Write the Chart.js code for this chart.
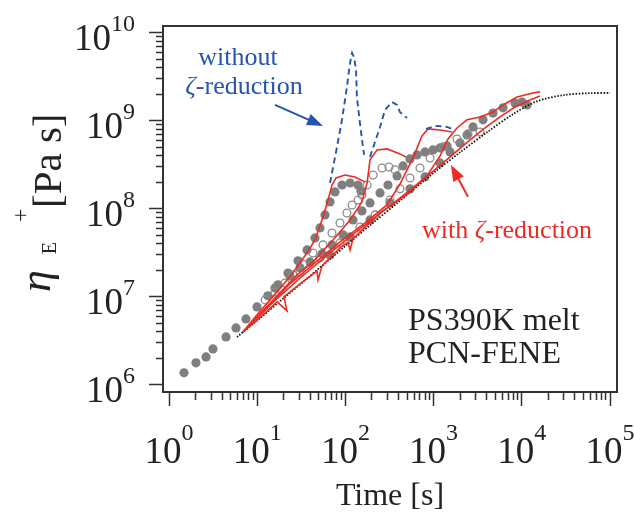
<!DOCTYPE html>
<html>
<head>
<meta charset="utf-8">
<script src="https://cdn.jsdelivr.net/npm/chart.js@4.4.0/dist/chart.umd.min.js"></script>
<style>
  body { margin: 0; background: #fff; }
</style>
</head>
<body>
<canvas id="chart" width="634" height="512"></canvas>
<script>
// --- axis ticks (powers of ten get a label) ---
const xMajor = [1, 10, 100, 1000, 10000, 100000];
const xExp = ['0', '1', '2', '3', '4', '5'];
const yMajor = [1e6, 1e7, 1e8, 1e9, 1e10];
const yExp = ['6', '7', '8', '9', '10'];

// --- LVE envelope (black dotted) ---
const lveTime = [5.9, 10, 20, 40, 100, 200, 400, 1000, 2000, 4000, 8000, 15000, 30000, 60000, 100000];
const lveEta = [3.5e6, 5.4e6, 9.7e6, 1.74e7, 3.8e7, 6.8e7, 1.2e8, 2.57e8, 4.4e8, 7.4e8, 1.2e9, 1.68e9, 1.97e9, 2.07e9, 2.08e9];

// --- experiments, filled / open grey circles ---
const aTime = [1.48, 2.02, 2.63, 3.15, 4.43, 5.75, 7.46, 9.95, 13.2, 17.2, 22.3, 29.0, 36.7, 45.2, 51.5, 58.7, 66.9, 76.2, 91.5, 113, 139, 150];
const aEta = [1.37e6, 1.78e6, 2.08e6, 2.56e6, 3.51e6, 4.44e6, 5.62e6, 7.7e6, 1.03e7, 1.37e7, 1.87e7, 2.57e7, 3.42e7, 4.68e7, 6.08e7, 8.55e7, 1.2e8, 1.56e8, 1.87e8, 1.97e8, 1.87e8, 1.6e8];
const bTime = [12.3, 15.9, 20.7, 25.5, 33.0, 42.9, 55.7, 70.5, 86.8, 104, 119, 139, 154, 176, 206, 260, 312, 365];
const bEta = [9.25e6, 1.14e7, 1.44e7, 1.78e7, 2.37e7, 3.16e7, 3.9e7, 5.33e7, 6.93e7, 9.0e7, 1.11e8, 1.26e8, 1.44e8, 1.87e8, 2.43e8, 2.92e8, 3.0e8, 2.78e8];
const cTime = [15.9, 23.5, 30.6, 39.7, 54.3, 70.5, 94.0, 122, 154, 190, 247, 304, 385, 450, 540, 649, 798, 984, 1183, 1419];
const cEta = [1.26e7, 1.73e7, 2.14e7, 2.5e7, 3.1e7, 3.9e7, 5.07e7, 7.5e7, 9.49e7, 1.17e8, 1.52e8, 1.87e8, 2.37e8, 3.08e8, 3.7e8, 4.11e8, 4.44e8, 4.68e8, 4.93e8, 5.2e8];
const dTime = [30.6, 51.5, 86.8, 146, 217, 320, 416, 540, 701, 910, 1279, 1843, 2455, 3357];
const dEta = [1.92e7, 2.78e7, 4.11e7, 6.24e7, 8.55e7, 1.26e8, 1.69e8, 2.25e8, 2.92e8, 3.8e8, 5.07e8, 6.24e8, 7.12e8, 7.5e8];
const eTime = [66.9, 113, 190, 320, 540, 798, 1183, 1535, 1992, 2391, 2799, 3631, 4713, 6120, 8375, 10050, 11450];
const eEta = [3.0e7, 4.81e7, 7.5e7, 1.17e8, 1.69e8, 2.31e8, 3.33e8, 4.44e8, 5.62e8, 6.93e8, 8.55e8, 1.03e9, 1.23e9, 1.41e9, 1.6e9, 1.64e9, 1.52e9];

// --- PCN-FENE with zeta-reduction (red) ---
const r1Time = [6.9, 9.69, 14.0, 23.5, 36.7, 45.2, 55.7, 63.5, 70.5, 78.2, 98.9, 128, 167];
const r1Eta = [4.0e6, 6.08e6, 9.25e6, 1.69e7, 3.16e7, 4.44e7, 8.11e7, 1.26e8, 1.87e8, 2.25e8, 2.43e8, 2.31e8, 2.03e8];
const r2Time = [6.9, 11.3, 18.1, 28.3, 42.9, 72.3, 113, 154, 176, 190, 228, 296, 416, 486];
const r2Eta = [4.0e6, 6.76e6, 1.11e7, 1.78e7, 2.5e7, 4.44e7, 7.5e7, 1.2e8, 1.97e8, 3.61e8, 4.68e8, 4.81e8, 4.22e8, 3.9e8];
const r3Time = [6.9, 12.3, 23.5, 45.2, 86.8, 167, 296, 416, 584, 738, 865, 1183, 1618];
const r3Eta = [4.0e6, 7.12e6, 1.41e7, 2.43e7, 4.22e7, 6.93e7, 1.11e8, 1.92e8, 3.8e8, 6.76e8, 8.11e8, 7.9e8, 7.5e8];
const r4Time = [6.9, 14.0, 30.6, 66.9, 146, 320, 540, 841, 1183, 1456, 1843, 2391, 3357, 4713, 6120, 8831, 13400, 16070];
const r4Eta = [4.0e6, 8.11e6, 1.64e7, 3.16e7, 5.93e7, 1.08e8, 1.64e8, 2.37e8, 4.0e8, 6.24e8, 8.32e8, 1.03e9, 1.11e9, 1.26e9, 1.52e9, 1.87e9, 2.08e9, 2.14e9];
const r5Time = [6.9, 11.3, 16.8, 21.8, 20.1, 30.6, 47.6, 48.9, 54.3, 86.8, 107, 113, 122, 247, 474, 910, 1535, 2588, 3828, 5659, 8375, 12380, 16070];
const r5Eta = [4.0e6, 6.08e6, 8.78e6, 6.93e6, 1.0e7, 1.41e7, 1.97e7, 1.56e7, 2.25e7, 3.6e7, 4.2e7, 3.4e7, 4.6e7, 9.0e7, 1.41e8, 2.5e8, 3.9e8, 6.08e8, 8.32e8, 1.11e9, 1.44e9, 1.73e9, 1.92e9];

// --- without zeta-reduction (blue dashed) ---
const u1Time = [66.9, 80.3, 91.5, 104, 110, 116, 119, 125, 132, 135, 146, 158, 163];
const u1Eta = [1.97e8, 5.07e8, 1.03e9, 2.43e9, 3.8e9, 5.33e9, 5.93e9, 5.33e9, 3.8e9, 1.87e9, 9.49e8, 5.07e8, 4.11e8];
const u2Time = [190, 247, 281, 338, 385, 416, 499];
const u2Eta = [3.9e8, 8.55e8, 1.33e9, 1.64e9, 1.52e9, 1.26e9, 1.08e9];
const u3Time = [820, 959, 1094, 1419, 1618];
const u3Eta = [8.11e8, 8.55e8, 8.78e8, 8.55e8, 8.11e8];

const RED = '#ee2a22';
const BLUE = '#2456b0';
const INK = '#222';
const SERIF = "'Liberation Serif', 'Times New Roman', serif";

const pts = (xs, ys) => xs.map((x, i) => ({x: x, y: ys[i]}));
const isMajor = v => v > 0 && Math.abs(Math.log10(v) - Math.round(Math.log10(v))) < 1e-9;

// minor ticks between decades
function decadeTicks(majors) {
  const out = [];
  majors.forEach((m, i) => {
    out.push(m);
    if (i < majors.length - 1) for (let k = 2; k <= 9; k++) out.push(m * k);
  });
  return out;
}
const xTicks = decadeTicks(xMajor);
const yTicks = decadeTicks(yMajor);

function redLine(xs, ys) {
  return { data: pts(xs, ys), borderColor: RED, borderWidth: 1.6, pointRadius: 0, tension: 0, fill: false };
}
function blueLine(xs, ys) {
  return { data: pts(xs, ys), borderColor: BLUE, borderWidth: 1.9, borderDash: [6, 4], pointRadius: 0, tension: 0, fill: false };
}
function filledPts(xs, ys) {
  return { data: pts(xs, ys), showLine: false, pointRadius: 4.6, pointBackgroundColor: '#7f7f7f', pointBorderWidth: 0 };
}
function openPts(xs, ys) {
  return { data: pts(xs, ys), showLine: false, pointRadius: 3.9, pointBackgroundColor: 'rgba(255,255,255,0)', pointBorderColor: '#8c8c8c', pointBorderWidth: 1.3 };
}

// text notes anchored in data coordinates
const notes = [
  { parts: [['without', false]], t: 6.06, eta: 4.33e9, color: BLUE, size: 26, align: 'center' },
  { parts: [['ζ', true], ['-reduction', false]], t: 7.08, eta: 2.03e9, color: BLUE, size: 26, align: 'center' },
  { parts: [['with ', false], ['ζ', true], ['-reduction', false]], t: 6800, eta: 4.68e7, color: RED, size: 26, align: 'center' },
  { parts: [['PS390K melt', false]], t: 513, eta: 4.22e6, color: INK, size: 32, align: 'left' },
  { parts: [['PCN-FENE', false]], t: 513, eta: 1.78e6, color: INK, size: 32, align: 'left' }
];
const arrows = [
  { from: [15.9, 1.52e9], to: [55.7, 8.78e8], color: BLUE },
  { from: [2455, 1.37e8], to: [1574, 3.16e8], color: RED }
];

function drawRich(ctx, parts, x, y, size, align) {
  const fonts = parts.map(p => (p[1] ? 'italic ' : '') + size + 'px ' + SERIF);
  let total = 0;
  const widths = parts.map((p, i) => { ctx.font = fonts[i]; const w = ctx.measureText(p[0]).width; total += w; return w; });
  let cx = align === 'center' ? x - total / 2 : x;
  ctx.textAlign = 'left';
  ctx.textBaseline = 'alphabetic';
  parts.forEach((p, i) => { ctx.font = fonts[i]; ctx.fillText(p[0], cx, y); cx += widths[i]; });
}

function drawArrow(ctx, x0, y0, x1, y1, color) {
  const ang = Math.atan2(y1 - y0, x1 - x0);
  const len = 16, half = 6;
  ctx.strokeStyle = color;
  ctx.fillStyle = color;
  ctx.lineWidth = 2;
  ctx.beginPath();
  ctx.moveTo(x0, y0);
  ctx.lineTo(x1 - Math.cos(ang) * len * 0.8, y1 - Math.sin(ang) * len * 0.8);
  ctx.stroke();
  ctx.beginPath();
  ctx.moveTo(x1, y1);
  ctx.lineTo(x1 - Math.cos(ang) * len - Math.sin(ang) * half, y1 - Math.sin(ang) * len + Math.cos(ang) * half);
  ctx.lineTo(x1 - Math.cos(ang) * len + Math.sin(ang) * half, y1 - Math.sin(ang) * len - Math.cos(ang) * half);
  ctx.closePath();
  ctx.fill();
}

const decor = {
  id: 'decor',
  afterDraw(chart) {
    const ctx = chart.ctx;
    const a = chart.chartArea;
    const xs = chart.scales.x, ys = chart.scales.y;
    ctx.save();

    // top and right of the frame
    ctx.strokeStyle = '#333';
    ctx.lineWidth = 2;
    ctx.beginPath();
    ctx.moveTo(a.left - 1, a.top);
    ctx.lineTo(a.right, a.top);
    ctx.lineTo(a.right, a.bottom + 1);
    ctx.stroke();

    // tick labels 10^n
    ctx.fillStyle = INK;
    ctx.textAlign = 'left';
    ctx.textBaseline = 'alphabetic';
    const big = '37px ' + SERIF, small = '24px ' + SERIF;
    xMajor.forEach((v, i) => {
      const px = xs.getPixelForValue(v);
      ctx.font = big; const w1 = ctx.measureText('10').width;
      ctx.font = small; const w2 = ctx.measureText(xExp[i]).width;
      const left = px - (w1 + w2) / 2;
      ctx.font = big; ctx.fillText('10', left, a.bottom + 71);
      ctx.font = small; ctx.fillText(xExp[i], left + w1, a.bottom + 48);
    });
    yMajor.forEach((v, i) => {
      const py = ys.getPixelForValue(v);
      ctx.font = big; const w1 = ctx.measureText('10').width;
      ctx.font = small; const w2 = ctx.measureText(yExp[i]).width;
      const right = a.left - 28;
      ctx.font = big; ctx.fillText('10', right - w2 - w1, py + 17);
      ctx.font = small; ctx.fillText(yExp[i], right - w2, py - 2);
    });

    // x title
    ctx.font = '32px ' + SERIF;
    ctx.textAlign = 'center';
    ctx.fillText('Time [s]', (a.left + a.right) / 2, 505);

    // y title, rotated
    ctx.save();
    ctx.translate(0, 292);
    ctx.rotate(-Math.PI / 2);
    ctx.textAlign = 'left';
    ctx.font = 'italic 44px ' + SERIF;
    ctx.fillText('η', 0, 50);
    const wEta = ctx.measureText('η').width;
    ctx.font = '20px ' + SERIF;
    ctx.fillText('E', wEta + 16, 56);
    ctx.font = '24px ' + SERIF;
    ctx.fillText('+', 70, 28);
    ctx.font = '41px ' + SERIF;
    ctx.fillText('[Pa s]', 84, 61);
    ctx.restore();

    // notes and arrows
    notes.forEach(n => {
      ctx.fillStyle = n.color;
      drawRich(ctx, n.parts, xs.getPixelForValue(n.t), ys.getPixelForValue(n.eta), n.size, n.align);
    });
    arrows.forEach(ar => {
      drawArrow(ctx,
        xs.getPixelForValue(ar.from[0]), ys.getPixelForValue(ar.from[1]),
        xs.getPixelForValue(ar.to[0]), ys.getPixelForValue(ar.to[1]), ar.color);
    });
    ctx.restore();
  }
};

new Chart(document.getElementById('chart'), {
  type: 'line',
  data: {
    datasets: [
      blueLine(u1Time, u1Eta),
      blueLine(u2Time, u2Eta),
      blueLine(u3Time, u3Eta),
      redLine(r1Time, r1Eta),
      redLine(r2Time, r2Eta),
      redLine(r3Time, r3Eta),
      redLine(r4Time, r4Eta),
      redLine(r5Time, r5Eta),
      { data: pts(lveTime, lveEta), borderColor: '#111', borderWidth: 1.8, borderDash: [1.5, 1.6], pointRadius: 0, tension: 0.3, fill: false },
      openPts(bTime, bEta),
      openPts(dTime, dEta),
      filledPts(aTime, aEta),
      filledPts(cTime, cEta),
      filledPts(eTime, eEta)
    ]
  },
  options: {
    responsive: false,
    devicePixelRatio: 1,
    animation: false,
    layout: { padding: { left: 149, right: 17, top: 26, bottom: 106 } },
    plugins: { legend: { display: false }, tooltip: { enabled: false } },
    scales: {
      x: {
        type: 'logarithmic',
        position: 'bottom',
        min: 0.855,
        max: 1.2e5,
        afterBuildTicks: s => { s.ticks = xTicks.map(v => ({ value: v, major: isMajor(v) })); },
        ticks: { display: false },
        border: { display: true, color: '#333', width: 2 },
        grid: {
          drawOnChartArea: false,
          drawTicks: true,
          tickLength: 14,
          tickWidth: 1.5,
          tickColor: '#333',
          tickBorderDash: c => (c.tick && isMajor(c.tick.value)) ? [] : [7, 100]
        }
      },
      y: {
        type: 'logarithmic',
        position: 'left',
        min: 8.3e5,
        max: 1.2e10,
        afterBuildTicks: s => { s.ticks = yTicks.map(v => ({ value: v, major: isMajor(v) })); },
        ticks: { display: false },
        border: { display: true, color: '#333', width: 2 },
        grid: {
          drawOnChartArea: false,
          drawTicks: true,
          tickLength: 14,
          tickWidth: 1.5,
          tickColor: '#333',
          tickBorderDash: c => (c.tick && isMajor(c.tick.value)) ? [] : [0, 7, 7, 100]
        }
      }
    }
  },
  plugins: [decor]
});
</script>
</body>
</html>
